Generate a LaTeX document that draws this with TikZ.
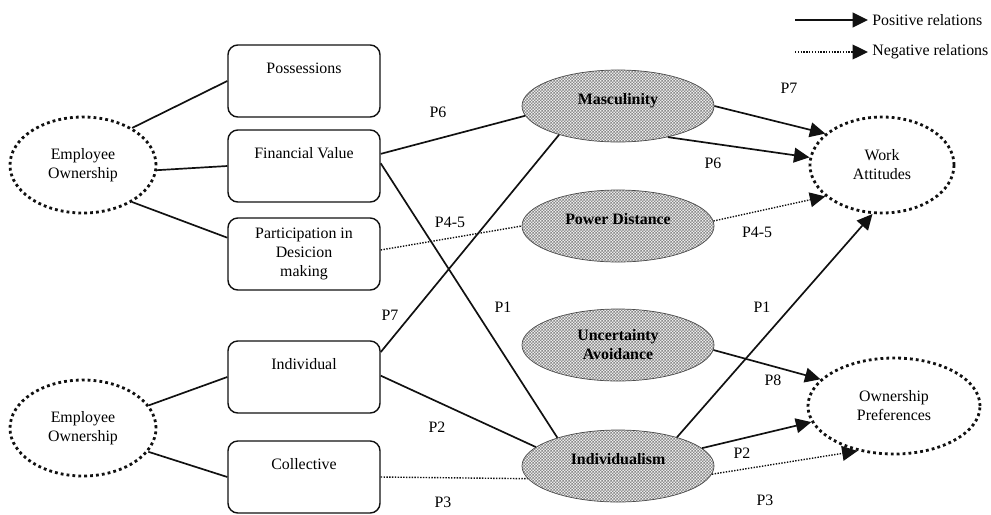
\documentclass[tikz,border=0pt]{standalone}
\usepackage{fontspec}
\setmainfont{Liberation Serif}
\usepackage{tikz}
\usetikzlibrary{arrows.meta,shapes.geometric,patterns,calc}
\definecolor{ink}{HTML}{111111}
\definecolor{hatch}{HTML}{8A8A8A}
\definecolor{shade}{HTML}{ECECEC}
\newcommand{\diagfont}{\fontsize{11.3}{13.5}\selectfont}
\pgfdeclarepatternformonly{finechecker}{\pgfpointorigin}{\pgfpoint{2.4pt}{2.4pt}}%
  {\pgfpoint{2.4pt}{2.4pt}}{%
  \pgfpathrectangle{\pgfpointorigin}{\pgfpoint{1.2pt}{1.2pt}}%
  \pgfpathrectangle{\pgfpoint{1.2pt}{1.2pt}}{\pgfpoint{1.2pt}{1.2pt}}%
  \pgfusepath{fill}}
\tikzset{
  box/.style    ={rounded corners=7pt,draw=ink,line width=1pt,
                  minimum width=3.8cm,minimum height=1.8cm,align=center},
  own/.style    ={ellipse,draw=ink,line width=2pt,dash pattern=on 2pt off 2.2pt,
                  minimum width=3.65cm,minimum height=2.4cm,align=center},
  culture/.style={ellipse,draw=ink!75,line width=0.5pt,
                  preaction={fill=shade},
                  preaction={pattern=finechecker,pattern color=hatch},
                  minimum width=4.8cm,minimum height=1.8cm,align=center,
                  font=\diagfont\bfseries},
  link/.style   ={line width=1.2pt,draw=ink},
  neglink/.style={line width=1pt,draw=ink,dash pattern=on 1pt off 1pt},
  posarrow/.style={-{Triangle[length=11pt,width=10.5pt]},line width=1.2pt,draw=ink},
  negarrow/.style={-{Triangle[length=11pt,width=10.5pt]},line width=1pt,draw=ink,
                  dash pattern=on 1pt off 1pt},
  plabel/.style ={inner sep=0pt}
}

\begin{document}
\begin{tikzpicture}[x=0.025cm,y=-0.025cm,font=\diagfont]
    \useasboundingbox (0,0) rectangle (991,514);
    % --- left: the two ownership views and their boxes ---
    \node[own] (eo1) at (83,165) {Employee\\Ownership};
    \node[box] (poss) at (304,81) {Possessions\\[5pt]~};
    \node[box] (fin) at (304,166) {Financial Value\\[5pt]~};
    \node[box] (part) at (304,254) {Participation in\\Desicion\\making};
    \node[own] (eo2) at (83,428) {Employee\\Ownership};
    \node[box] (indiv) at (304,377) {Individual\\[5pt]~};
    \node[box] (coll) at (304,477) {Collective\\[5pt]~};
    % --- middle: cultural dimensions ---
    \node[culture] (masc) at (618,106) {Masculinity\\[-3pt]~};
    \node[culture] (pd) at (618,226) {Power Distance\\[-3pt]~};
    \node[culture] (ua) at (618,345) {Uncertainty\\Avoidance};
    \node[culture] (ism) at (618,466) {Individualism\\[-3pt]~};
    % --- right: outcomes ---
    \node[own,minimum width=3.6cm] (wa) at (882,165) {Work\\Attitudes};
    \node[own,minimum width=4.3cm] (op) at (894,406) {Ownership\\Preferences};
    % --- legend ---
    \coordinate (lg1a) at (795,20);
    \coordinate (lg1b) at (868,20);
    \coordinate (lg2a) at (795,52);
    \coordinate (lg2b) at (868,52);
    \draw[posarrow] (lg1a) -- (lg1b);
    \draw[negarrow] (lg2a) -- (lg2b);
    \node[anchor=west,inner sep=0pt] (lgpos) at (872,20) {Positive relations};
    \node[anchor=west,inner sep=0pt] (lgneg) at (872,52) {Negative relations};
    % --- ownership to its forms ---
    \draw[link] (eo1.37) -- (poss.west);
    \draw[link] (eo1.-4) -- (fin.west);
    \draw[link] (eo1.-37) -- (part.168);
    \draw[link] (eo2.19) -- (indiv.west);
    \draw[link] (eo2.-20) -- (coll.west);
    % --- forms to dimensions ---
    \draw[link] (fin.9) -- (masc.186);
    \draw[link] (fin.2) -- (ism.155);
    \draw[neglink] (part.3) -- (pd.west);
    \draw[link] (indiv.18) -- (masc.206);
    \draw[link] (indiv.1) -- (ism.167);
    \draw[neglink] (coll.east) -- (ism.188);
    % --- dimensions to outcomes ---
    \draw[posarrow] (masc.east) -- (wa.151);
    \draw[posarrow] (masc.-32) -- (wa.174);
    \draw[negarrow] (pd.3) -- (wa.209);
    \draw[posarrow] (ism.26) -- (wa.259);
    \draw[posarrow] (ua.-3) -- (op.160);
    \draw[posarrow] (ism.12) -- (op.191);
    \draw[negarrow] (ism.-5) -- (op.231);
    % --- propositions ---
    \node[plabel] (p6l) at (438,112) {P6};
    \node[plabel] (p1l) at (503,307) {P1};
    \node[plabel] (p45l) at (450,222) {P4-5};
    \node[plabel] (p7l) at (390,315) {P7};
    \node[plabel] (p2l) at (437,427) {P2};
    \node[plabel] (p3l) at (443,502) {P3};
    \node[plabel] (p7r) at (789,88) {P7};
    \node[plabel] (p6r) at (713,163) {P6};
    \node[plabel] (p45r) at (757,232) {P4-5};
    \node[plabel] (p1r) at (762,307) {P1};
    \node[plabel] (p8r) at (773,380) {P8};
    \node[plabel] (p2r) at (742,453) {P2};
    \node[plabel] (p3r) at (765,500) {P3};
  \end{tikzpicture}
\end{document}
